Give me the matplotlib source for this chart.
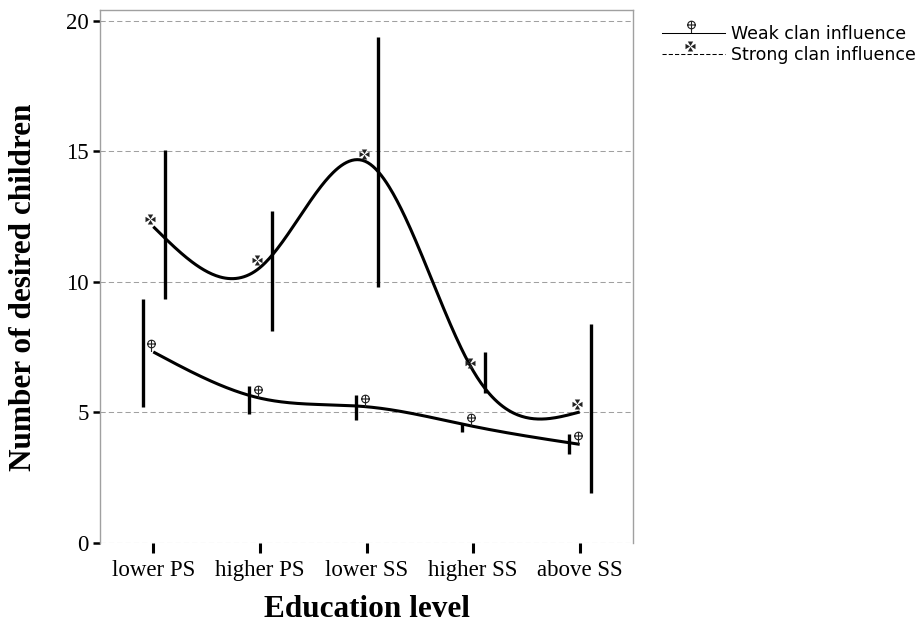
import numpy as np
import matplotlib
matplotlib.use("Agg")
import matplotlib.pyplot as plt
from matplotlib.path import Path
from matplotlib.lines import Line2D

# Education levels on the x axis
levels = ["lower PS", "higher PS", "lower SS", "higher SS", "above SS"]

# Mean number of desired children and 95% CI bounds per group
weak_mean = [7.32, 5.55, 5.22, 4.47, 3.78]
weak_low = [5.21, 4.94, 4.71, 4.25, 3.41]
weak_high = [9.35, 6.02, 5.67, 4.60, 4.18]

strong_mean = [12.12, 10.55, 14.60, 6.60, 5.02]
strong_low = [9.35, 8.12, 9.81, 5.75, 1.92]
strong_high = [15.06, 12.72, 19.39, 7.32, 8.39]

y_ticks = [0, 5, 10, 15, 20]

DPI = 100


def natural_spline(y, n=80):
    """Natural cubic spline through equally spaced points x = 0..len(y)-1."""
    y = np.asarray(y, dtype=float)
    k = len(y)
    A = np.zeros((k, k))
    b = np.zeros(k)
    A[0, 0] = A[-1, -1] = 1.0
    for i in range(1, k - 1):
        A[i, i - 1], A[i, i], A[i, i + 1] = 1.0, 4.0, 1.0
        b[i] = 6.0 * (y[i + 1] - 2 * y[i] + y[i - 1])
    m = np.linalg.solve(A, b)
    xs, ys = [], []
    for i in range(k - 1):
        t = np.linspace(0, 1, n, endpoint=(i == k - 2))
        u = 1 - t
        seg = (y[i] * u + y[i + 1] * t
               + (m[i] * (u ** 3 - u) + m[i + 1] * (t ** 3 - t)) / 6.0)
        xs.append(i + t)
        ys.append(seg)
    return np.concatenate(xs), np.concatenate(ys)


def weak_symbol():
    # circle with a cross and a short stem down to the data point (pixel units)
    circle = Path.circle((-2, 8.5), 3.8)
    cross = Path([(-5.8, 8.5), (1.8, 8.5), (-2, 12.3), (-2, 0.5)],
                 [Path.MOVETO, Path.LINETO, Path.MOVETO, Path.LINETO])
    return Path.make_compound_path(circle, cross)


def strong_symbol():
    # cross pattee: four flared arms, sitting just above the data point
    cx, cy, a, w, g = -3.0, 8.0, 5.0, 2.7, 0.5
    verts, codes = [], []
    for (dx, dy) in [(0, 1), (0, -1), (1, 0), (-1, 0)]:
        px, py = -dy, dx
        pts = [(cx + dx * g, cy + dy * g),
               (cx + dx * a + px * w, cy + dy * a + py * w),
               (cx + dx * a - px * w, cy + dy * a - py * w),
               (cx + dx * g, cy + dy * g)]
        verts += pts
        codes += [Path.MOVETO, Path.LINETO, Path.LINETO, Path.CLOSEPOLY]
    return Path(verts, codes)


def marker_size(path):
    # matplotlib scales custom paths so the largest |vertex| is half the size
    return 2 * np.abs(path.vertices).max() * 72.0 / DPI


weak_m = weak_symbol()
strong_m = strong_symbol()

fig = plt.figure(figsize=(9.23, 6.26), dpi=DPI)
ax = fig.add_axes([100 / 923, 1 - 543 / 626, 533 / 923, 533 / 626])

x = np.arange(len(levels))

# reference lines
for t in y_ticks:
    ax.axhline(t, color="#a0a0a0" if t else "#606060", lw=0.75,
               ls=(0, (5, 3)), zorder=0)

# confidence intervals, weak group left of the category, strong group right
ax.vlines(x - 0.10, weak_low, weak_high, color="black", lw=2.4, zorder=2)
ax.vlines(x + 0.11, strong_low, strong_high, color="black", lw=2.4, zorder=2)

# smoothed mean curves
wx, wy = natural_spline(weak_mean)
sx, sy = natural_spline(strong_mean)
ax.plot(wx, wy, color="black", lw=2.2, solid_capstyle="butt", zorder=3)
ax.plot(sx, sy, color="black", lw=2.2, solid_capstyle="butt", zorder=3)

ax.plot(x, weak_mean, ls="none", marker=weak_m, ms=marker_size(weak_m),
        mfc="white", mec="#222222", mew=0.8, zorder=4)
ax.plot(x, strong_mean, ls="none", marker=strong_m, ms=marker_size(strong_m),
        mfc="#222222", mec="none", mew=0, zorder=4)

ax.set_xlim(-0.5, 4.5)
ax.set_ylim(0, 20.42)
ax.set_xticks(x)
ax.set_xticklabels(levels)
ax.set_yticks(y_ticks)

serif = "Liberation Serif"
for lab in ax.get_xticklabels() + ax.get_yticklabels():
    lab.set_fontfamily(serif)
    lab.set_fontsize(16.5)
ax.tick_params(axis="x", direction="out", length=7, width=2.2, pad=5, color="black")
ax.tick_params(axis="y", direction="out", length=5, width=1.8, pad=3, color="black")

for side in ["left", "top", "right"]:
    ax.spines[side].set_color("#a0a0a0")
    ax.spines[side].set_linewidth(1.0)
ax.spines["bottom"].set_visible(False)

ax.set_xlabel("Education level", fontfamily=serif, fontweight="bold", fontsize=22.5)
ax.set_ylabel("Number of desired children", fontfamily=serif, fontweight="bold", fontsize=22.5)
ax.xaxis.set_label_coords(0.5, -0.098)
ax.yaxis.set_label_coords(-0.116, 0.48)

handles = [
    Line2D([], [], color="black", lw=0.75, marker=weak_m, ms=marker_size(weak_m),
           mfc="white", mec="#222222", mew=0.8),
    Line2D([], [], color="black", lw=0.75, ls=(0, (4, 2)), marker=strong_m,
           ms=marker_size(strong_m), mfc="#222222", mec="none", mew=0),
]
leg = ax.legend(handles, ["Weak clan influence", "Strong clan influence"],
                loc="upper left", bbox_to_anchor=(662 / 923, 1 - 25 / 626),
                bbox_transform=fig.transFigure, frameon=False, borderpad=0,
                borderaxespad=0, handlelength=3.6, handletextpad=0.4,
                labelspacing=0.2, numpoints=1,
                prop={"family": "DejaVu Sans", "size": 12.5})

fig.savefig("out.png", dpi=DPI)
